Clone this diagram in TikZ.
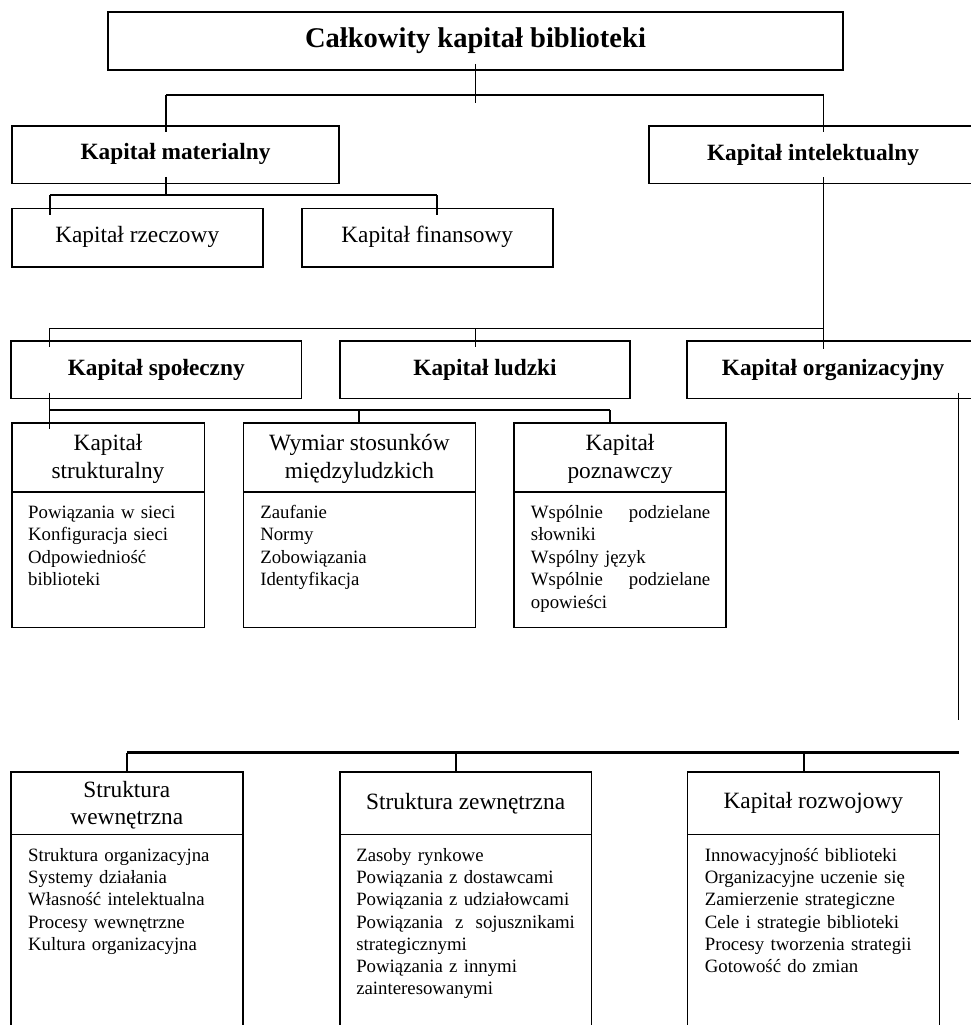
\documentclass[tikz,border=0pt]{standalone}
\usepackage{fontspec}
\setmainfont{Liberation Serif}
\usetikzlibrary{fit,calc}
\newcommand{\mytitlefont}{\bfseries\fontsize{21.4}{25}\selectfont}
\newcommand{\myhbfont}{\bfseries\fontsize{17.5}{20.8}\selectfont}
\newcommand{\myhrfont}{\fontsize{17.5}{20.8}\selectfont}
\newcommand{\mybodyfontA}{\fontsize{14.1}{16.95}\selectfont}
\newcommand{\mybodyfontB}{\fontsize{14.1}{16.65}\selectfont}
\begin{document}
\begin{tikzpicture}[x=0.75pt,y=-0.75pt,
  box/.style={draw, line width=1.2pt, inner sep=0pt, fit={#1}},
  ln/.style={line width=1.2pt},
  thick ln/.style={line width=1.9pt},
  hb/.style={font=\myhbfont, inner sep=0pt},
  hr/.style={font=\myhrfont, align=center, inner sep=0pt},
  bodytext/.style={anchor=base west, inner sep=0pt, align=left, text width=250pt}
]
\useasboundingbox (0,0) rectangle (971,1025);

% level 0
\node[box={(108,11.7)(843,70)}] (T) {};
\node[font=\mytitlefont, inner sep=0pt] (Tl) at ($(T.center)+(0,-0.5)$) {Całkowity kapitał biblioteki};

% level 1
\node[box={(12,126)(339,183.5)}] (M) {};
\node[hb] (Ml) at ($(M.center)+(0,-1)$) {Kapitał materialny};
\node[box={(649,126)(977,183.5)}] (I) {};
\node[hb] (Il) at ($(I.center)+(0,0)$) {Kapitał intelektualny};

% material children
\node[box={(11.7,208.3)(262.7,266.7)}] (R) {};
\node[hr] (Rl) at ($(R.center)+(0,-0.5)$) {Kapitał rzeczowy};
\node[box={(301.7,208.3)(552.7,266.7)}] (F) {};
\node[hr] (Fl) at ($(F.center)+(0,-0.5)$) {Kapitał finansowy};

% intellectual children
\node[box={(11,340.7)(301.5,398.3)}] (S) {};
\node[hb] (Sl) at (S.center) {Kapitał społeczny};
\node[box={(340,340.7)(630,398.3)}] (L) {};
\node[hb] (Ll) at (L.center) {Kapitał ludzki};
\node[box={(687,340.7)(979,398.3)}] (O) {};
\node[hb] (Ol) at (O.center) {Kapitał organizacyjny};

% social capital children
\node[box={(11.7,422.7)(204.3,492)}] (A1h) {};
\node[hr] (A1l) at ($(A1h.center)+(0,1.5)$) {Kapitał\\strukturalny};
\node[box={(11.7,492)(204.3,627.3)}] (A1b) {};
\node[box={(243.3,422.7)(475.5,492)}] (A2h) {};
\node[hr] (A2l) at ($(A2h.center)+(0,1.5)$) {Wymiar stosunków\\międzyludzkich};
\node[box={(243.3,492)(475.5,627.3)}] (A2b) {};
\node[box={(514,422.7)(726,492)}] (A3h) {};
\node[hr] (A3l) at ($(A3h.center)+(0,1.5)$) {Kapitał\\poznawczy};
\node[box={(514,492)(726,627.3)}] (A3b) {};

\node[bodytext, font=\mybodyfontA] (A1t) at (27.9,518.1) {Powiązania w sieci\\Konfiguracja sieci\\Odpowiedniość\\biblioteki};
\node[bodytext, font=\mybodyfontA] (A2t) at (260,518.1) {Zaufanie\\Normy\\Zobowiązania\\Identyfikacja};
\node[bodytext, font=\mybodyfontA] (A3t) at (530.7,518.1) {\makebox[134.5pt][l]{Wspólnie\hfill podzielane}\\słowniki\\Wspólny język\\\makebox[134.5pt][l]{Wspólnie\hfill podzielane}\\opowieści};

% organizational capital children
\node[box={(11,772)(242.7,834.3)}] (B1h) {};
\node[hr] (B1l) at ($(B1h.center)+(0,2)$) {Struktura\\wewnętrzna};
\node[box={(11,834.3)(242.7,1040)}] (B1b) {};
\node[box={(340,772)(591.3,834.3)}] (B2h) {};
\node[hr] (B2l) at ($(B2h.center)+(0,0.5)$) {Struktura zewnętrzna};
\node[box={(340,834.3)(591.3,1040)}] (B2b) {};
\node[box={(687.3,772)(939.3,834.3)}] (B3h) {};
\node[hr] (B3l) at ($(B3h.center)+(0,0)$) {Kapitał rozwojowy};
\node[box={(687.3,834.3)(939.3,1040)}] (B3b) {};

\node[bodytext, font=\mybodyfontB] (B1t) at (27.9,861.5) {Struktura organizacyjna\\Systemy działania\\Własność intelektualna\\Procesy wewnętrzne\\Kultura organizacyjna};
\node[bodytext, font=\mybodyfontB] (B2t) at (356,861.5) {Zasoby rynkowe\\Powiązania z dostawcami\\Powiązania z udziałowcami\\\makebox[164pt][l]{Powiązania\hfill z\hfill sojusznikami}\\strategicznymi\\Powiązania z innymi\\zainteresowanymi};
\node[bodytext, font=\mybodyfontB] (B3t) at (704.6,861.5) {Innowacyjność biblioteki\\Organizacyjne uczenie się\\Zamierzenie strategiczne\\Cele i strategie biblioteki\\Procesy tworzenia strategii\\Gotowość do zmian};

% junction coordinates
\coordinate (j1l) at (166,95);
\coordinate (j1r) at (823.5,95);
\coordinate (j2l) at (50,195);
\coordinate (j2r) at (436.7,195);
\coordinate (j3l) at (49.5,328.3);
\coordinate (j3m) at (475.5,328.3);
\coordinate (j3r) at (823.5,328.3);
\coordinate (j4l) at (49.5,410);
\coordinate (j4m) at (359,410);
\coordinate (j4r) at (610,410);
\coordinate (oend) at (958.5,720);
\coordinate (j5l) at (127,752.7);
\coordinate (j5m) at (455.7,752.7);
\coordinate (j5n) at (803.7,752.7);
\coordinate (j5r) at (958.5,752.7);

% connectors
\draw[ln] ($(T.south)+(0,-7)$) -- ($(T.south)+(0,31.7)$);
\draw[ln] (j1l) -- (j1r);
\draw[ln] (j1l) -- ($(j1l |- M.north)+(0,7)$);
\draw[ln] (j1r) -- ($(j1r |- I.north)+(0,7)$);

\draw[ln] ($(j1l |- M.south)+(0,-7.5)$) -- (j1l |- j2l);
\draw[ln] (j2l) -- (j2r);
\draw[ln] (j2l) -- ($(j2l |- R.north)+(0,7)$);
\draw[ln] (j2r) -- ($(j2r |- F.north)+(0,7)$);

\draw[ln] ($(j1r |- I.south)+(0,-7)$) -- ($(j3r |- O.north)+(0,9.5)$);
\draw[ln] (j3l) -- (j3r);
\draw[ln] (j3l) -- ($(j3l |- S.north)+(0,7.5)$);
\draw[ln] (j3m) -- ($(j3m |- L.north)+(0,7.5)$);

\draw[ln] ($(j3l |- S.south)+(0,-6.6)$) -- ($(j3l |- A1h.north)+(0,7.3)$);
\draw[ln] (j4l) -- (j4r);
\draw[ln] (j4m) -- (j4m |- A2h.north);
\draw[ln] (j4r) -- (j4r |- A3h.north);

\draw[ln] ($(oend |- O.south)+(0,-6.6)$) -- (oend);
\draw[thick ln] (j5l) -- (j5r);
\draw[ln] (j5l) -- (j5l |- B1h.north);
\draw[ln] (j5m) -- (j5m |- B2h.north);
\draw[ln] (j5n) -- (j5n |- B3h.north);
\end{tikzpicture}
\end{document}
